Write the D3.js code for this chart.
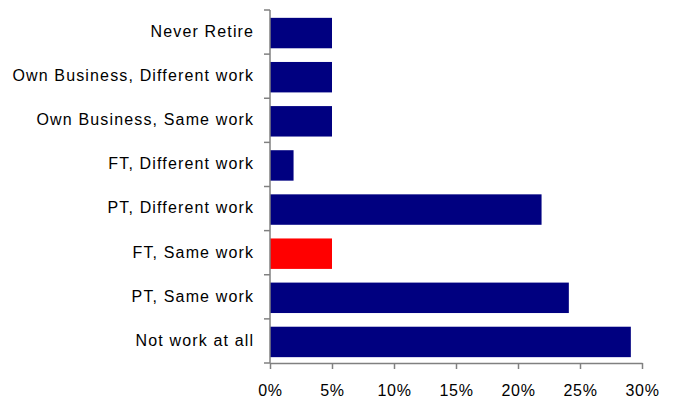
<!DOCTYPE html>
<html>
<head>
<meta charset="utf-8">
<script src="https://cdn.jsdelivr.net/npm/d3@7"></script>
<style>
  html, body { margin: 0; padding: 0; background: #fff; }
  svg { display: block; }
  text { font-family: "Liberation Sans", Arial, sans-serif; fill: #000; }
</style>
</head>
<body>
<svg id="chart" width="673" height="398"></svg>
<script>
// Retirement plans, share of respondents (%)
const categories = [
  "Never Retire",
  "Own Business, Different work",
  "Own Business, Same work",
  "FT, Different work",
  "PT, Different work",
  "FT, Same work",
  "PT, Same work",
  "Not work at all"
];
const values = [5, 5, 5, 1.9, 21.9, 5, 24.1, 29.1];
const highlighted = ["FT, Same work"];
const tickValues = [0, 5, 10, 15, 20, 25, 30];

const svg = d3.select("#chart");
const plot = { left: 270, right: 642, top: 10, bottom: 363 };
const axisColor = "#808080";
const labelSpacing = 1.15;

const x = d3.scaleLinear().domain([0, 30]).range([plot.left, plot.right]);
const y = d3.scaleBand().domain(categories).range([plot.top, plot.bottom])
  .paddingInner(0.31).paddingOuter(0.155);

// Bars
svg.append("g").selectAll("rect")
  .data(categories)
  .join("rect")
  .attr("x", x(0))
  .attr("y", d => y(d) + 1)
  .attr("width", (d, i) => x(values[i]) - x(0))
  .attr("height", y.bandwidth())
  .attr("fill", d => highlighted.includes(d) ? "#ff0000" : "#000080");

// Category axis: ticks at band boundaries
const step = y.step();
const boundaries = d3.range(categories.length + 1).map(i => plot.top + i * step);
const yAxis = svg.append("g");
yAxis.append("line")
  .attr("x1", plot.left).attr("x2", plot.left)
  .attr("y1", plot.top).attr("y2", plot.bottom)
  .attr("stroke", axisColor).attr("stroke-width", 1.5);
yAxis.selectAll("line.tick")
  .data(boundaries)
  .join("line")
  .attr("class", "tick")
  .attr("x1", plot.left - 6).attr("x2", plot.left)
  .attr("y1", d => d).attr("y2", d => d)
  .attr("stroke", axisColor).attr("stroke-width", 1.5);
yAxis.selectAll("text")
  .data(categories)
  .join("text")
  .attr("x", 253 + labelSpacing)
  .attr("y", d => y(d) + 1 + y.bandwidth() / 2)
  .attr("dy", "0.24em")
  .attr("text-anchor", "end")
  .attr("font-size", 16)
  .attr("letter-spacing", labelSpacing)
  .text(d => d);

// Value axis
const xAxis = svg.append("g")
  .attr("transform", `translate(0,${plot.bottom})`)
  .call(d3.axisBottom(x).tickValues(tickValues).tickSize(6).tickSizeOuter(0)
    .tickFormat(d => d + "%"));
xAxis.select(".domain").attr("stroke", axisColor).attr("stroke-width", 1.5);
xAxis.selectAll(".tick line").attr("stroke", axisColor).attr("stroke-width", 1.5);
xAxis.selectAll(".tick text")
  .attr("font-size", 16)
  .attr("font-family", "Liberation Sans, Arial, sans-serif")
  .attr("letter-spacing", 0.7)
  .attr("fill", "#000")
  .attr("dy", null)
  .attr("y", 33);
</script>
</body>
</html>
